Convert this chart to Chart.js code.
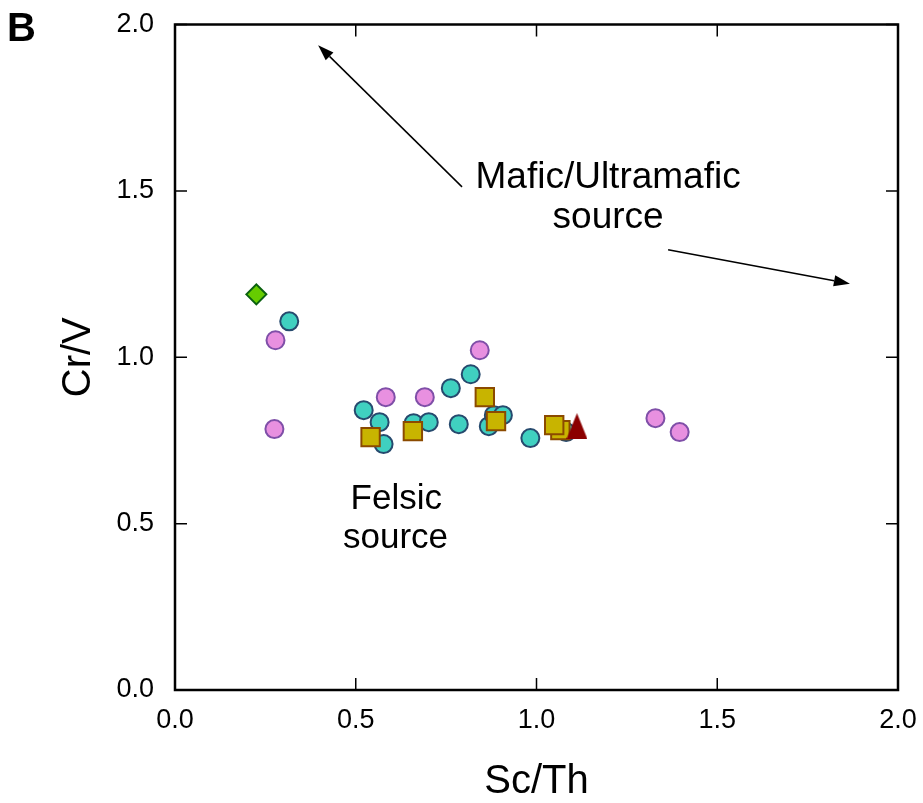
<!DOCTYPE html>
<html>
<head>
<meta charset="utf-8">
<script src="https://cdn.jsdelivr.net/npm/chart.js@4"></script>
<style>
  html, body { margin: 0; padding: 0; background: #fff; }
  #wrap { width: 923px; height: 803px; }
</style>
</head>
<body>
<div id="wrap"><canvas id="scChart" width="923" height="803"></canvas></div>
<script>
  // valores (Sc/Th, Cr/V)
  const tealX = [0.316, 0.522, 0.566, 0.577, 0.660, 0.702, 0.763, 0.785, 0.818, 0.868, 0.882, 0.907, 0.983, 1.082];
  const tealY = [1.108, 0.841, 0.805, 0.739, 0.802, 0.805, 0.907, 0.799, 0.949, 0.793, 0.826, 0.826, 0.757, 0.775];
  const pinkX = [0.278, 0.275, 0.583, 0.691, 0.843, 1.329, 1.396];
  const pinkY = [1.051, 0.784, 0.880, 0.880, 1.021, 0.817, 0.775];
  const squareX = [0.541, 0.658, 0.857, 0.888, 1.066, 1.049];
  const squareY = [0.760, 0.778, 0.880, 0.808, 0.781, 0.796];
  const triangleX = [1.112];
  const triangleY = [0.793];
  const diamondX = [0.225];
  const diamondY = [1.189];

  const xTicks = [0.0, 0.5, 1.0, 1.5, 2.0];
  const yTicks = [0.0, 0.5, 1.0, 1.5, 2.0];

  // anotaciones (en unidades de datos)
  const arrows = [
    { from: [0.794, 1.512], to: [0.396, 1.938] },
    { from: [1.364, 1.323], to: [1.867, 1.221] }
  ];
  const notes = [
    { text: 'Mafic/Ultramafic', x: 1.198, y: 1.508, size: 37 },
    { text: 'source', x: 1.198, y: 1.389, size: 37 },
    { text: 'Felsic', x: 0.612, y: 0.544, size: 35 },
    { text: 'source', x: 0.610, y: 0.426, size: 35 }
  ];

  const FONT = '"Liberation Sans", Arial, sans-serif';

  function pts(xs, ys) {
    return xs.map((x, i) => ({ x: x, y: ys[i] }));
  }

  // triángulo algo más alto que el de Chart.js
  function makeTriangle(w, h, color) {
    const c = document.createElement('canvas');
    c.width = w; c.height = h;
    const g = c.getContext('2d');
    g.fillStyle = color;
    g.beginPath();
    g.moveTo(w / 2, 0);
    g.lineTo(w, h);
    g.lineTo(0, h);
    g.closePath();
    g.fill();
    return c;
  }

  const framePlugin = {
    id: 'frame',
    afterDraw(chart) {
      const { ctx, chartArea: a, scales } = chart;
      const xs = scales.x, ys = scales.y;
      ctx.save();
      ctx.strokeStyle = '#000';
      ctx.lineWidth = 2.5;
      ctx.strokeRect(a.left, a.top, a.right - a.left, a.bottom - a.top);

      // ticks hacia adentro
      ctx.lineWidth = 1.5;
      const len = 12;
      ctx.beginPath();
      xTicks.forEach(v => {
        const px = xs.getPixelForValue(v);
        ctx.moveTo(px, a.bottom); ctx.lineTo(px, a.bottom - len);
        ctx.moveTo(px, a.top); ctx.lineTo(px, a.top + len);
      });
      yTicks.forEach(v => {
        const py = ys.getPixelForValue(v);
        ctx.moveTo(a.left, py); ctx.lineTo(a.left + len, py);
        ctx.moveTo(a.right, py); ctx.lineTo(a.right - len, py);
      });
      ctx.stroke();

      // flechas
      ctx.lineWidth = 1.5;
      ctx.fillStyle = '#000';
      arrows.forEach(ar => {
        const x1 = xs.getPixelForValue(ar.from[0]), y1 = ys.getPixelForValue(ar.from[1]);
        const x2 = xs.getPixelForValue(ar.to[0]), y2 = ys.getPixelForValue(ar.to[1]);
        const ang = Math.atan2(y2 - y1, x2 - x1);
        const hl = 16, hw = 5.5;
        const bx = x2 - hl * Math.cos(ang), by = y2 - hl * Math.sin(ang);
        ctx.beginPath();
        ctx.moveTo(x1, y1); ctx.lineTo(bx, by);
        ctx.stroke();
        ctx.beginPath();
        ctx.moveTo(x2, y2);
        ctx.lineTo(bx + hw * Math.sin(ang), by - hw * Math.cos(ang));
        ctx.lineTo(bx - hw * Math.sin(ang), by + hw * Math.cos(ang));
        ctx.closePath();
        ctx.fill();
      });

      // textos
      ctx.textAlign = 'center';
      ctx.textBaseline = 'alphabetic';
      notes.forEach(n => {
        ctx.font = n.size + 'px ' + FONT;
        ctx.fillText(n.text, xs.getPixelForValue(n.x), ys.getPixelForValue(n.y));
      });

      // letra del panel
      ctx.font = 'bold 40px ' + FONT;
      ctx.textAlign = 'left';
      ctx.fillText('B', 7, 41);
      ctx.restore();
    }
  };

  const ctx = document.getElementById('scChart').getContext('2d');
  const scChart = new Chart(ctx, {
    type: 'scatter',
    data: {
      datasets: [
        {
          label: 'diamond',
          data: pts(diamondX, diamondY),
          pointStyle: 'rectRot',
          pointRadius: 10,
          backgroundColor: '#66cc00',
          borderColor: '#0a6010',
          borderWidth: 2
        },
        {
          label: 'triangle',
          data: pts(triangleX, triangleY),
          pointStyle: makeTriangle(21, 26, '#8b0000'),
          pointRadius: 13,
          backgroundColor: '#8b0000',
          borderColor: '#8b0000'
        },
        {
          label: 'squares',
          data: pts(squareX, squareY),
          pointStyle: 'rect',
          pointRadius: 13,
          backgroundColor: '#c8b400',
          borderColor: '#8b4a00',
          borderWidth: 2
        },
        {
          label: 'pink',
          data: pts(pinkX, pinkY),
          pointStyle: 'circle',
          pointRadius: 9,
          backgroundColor: '#e890e0',
          borderColor: '#7f4fa8',
          borderWidth: 2
        },
        {
          label: 'teal',
          data: pts(tealX, tealY),
          pointStyle: 'circle',
          pointRadius: 9,
          backgroundColor: '#40d0c0',
          borderColor: '#264a6e',
          borderWidth: 2
        }
      ]
    },
    options: {
      responsive: false,
      animation: false,
      layout: { padding: { top: 24.5, right: 25, left: 0, bottom: 0 } },
      plugins: {
        legend: { display: false },
        tooltip: { enabled: false }
      },
      scales: {
        x: {
          type: 'linear',
          min: 0, max: 2,
          afterFit: s => { s.height = 113; s.paddingLeft = 0; s.paddingRight = 0; },
          afterBuildTicks: s => { s.ticks = xTicks.map(v => ({ value: v })); },
          grid: { display: false, drawTicks: false },
          border: { display: false },
          ticks: {
            padding: 14,
            color: '#000',
            font: { family: FONT, size: 27 },
            callback: v => v.toFixed(1)
          },
          title: {
            display: true,
            text: 'Sc/Th',
            color: '#000',
            font: { family: FONT, size: 40 },
            padding: { bottom: -3, top: 0 }
          }
        },
        y: {
          type: 'linear',
          min: 0, max: 2,
          afterFit: s => { s.width = 175; s.paddingTop = 0; s.paddingBottom = 0; },
          afterBuildTicks: s => { s.ticks = yTicks.map(v => ({ value: v })); },
          grid: { display: false, drawTicks: false },
          border: { display: false },
          ticks: {
            padding: 21,
            color: '#000',
            font: { family: FONT, size: 27 },
            callback: v => v.toFixed(1)
          },
          title: {
            display: true,
            text: 'Cr/V',
            color: '#000',
            font: { family: FONT, size: 40 },
            padding: { top: 55, bottom: 0 }
          }
        }
      }
    },
    plugins: [framePlugin]
  });
</script>
</body>
</html>
